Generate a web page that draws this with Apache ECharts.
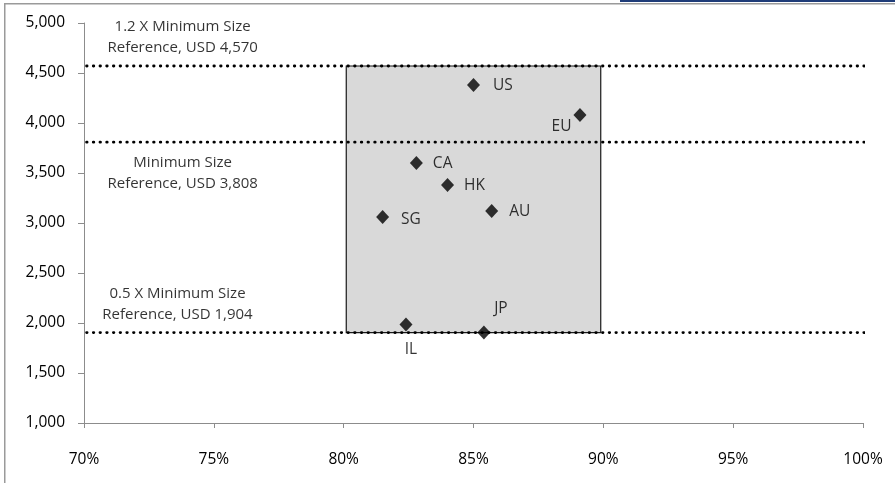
<!DOCTYPE html>
<html>
<head>
<meta charset="utf-8">
<script src="https://cdn.jsdelivr.net/npm/echarts@6/dist/echarts.min.js"></script>
<style>
  html, body { margin: 0; padding: 0; background: #fff; }
  #chart { width: 895px; height: 483px; }
</style>
</head>
<body>
<div id="chart"></div>
<script>
// Jurisdictions plotted: share (%) on x, size (USD) on y
const countries = ['US', 'EU', 'CA', 'HK', 'AU', 'SG', 'IL', 'JP'];
const shareValues = [85.0, 89.1, 82.8, 84.0, 85.7, 81.5, 82.4, 85.4];
const sizeValues = [4380, 4080, 3600, 3380, 3120, 3060, 1985, 1905];

// Reference levels drawn as dotted horizontal lines
const refLevels = [4570, 3808, 1904];
const refTitles = ['1.2 X Minimum Size', 'Minimum Size', '0.5 X Minimum Size'];
const refAmounts = ['4,570', '3,808', '1,904'];

// Shaded band of shares
const bandShare = [80.1, 89.9];

// Axis ranges and ticks
const xTicks = { min: 70, max: 100, step: 5 };
const yTicks = { min: 1000, max: 5000, step: 500 };

const FONT = '"Open Sans"';

// Where each country's label sits relative to its marker
const labelPlacement = {
  US: { position: 'right', offset: [8, 1] },
  EU: { position: 'left', offset: [3, 12] },
  CA: { position: 'right', offset: [5, 1] },
  HK: { position: 'right', offset: [5, 1] },
  AU: { position: 'right', offset: [6, 1] },
  SG: { position: 'right', offset: [7, 3] },
  IL: { position: 'bottom', offset: [5, 5] },
  JP: { position: 'top', offset: [17, -4] }
};

// Reference line annotations: placement above/below the line
const refNotePlacement = [
  { x: 73.8, position: 'top', distance: 8 },
  { x: 73.8, position: 'bottom', distance: 10 },
  { x: 73.6, position: 'top', distance: 7 }
];

const chart = echarts.init(document.getElementById('chart'), null, { renderer: 'canvas' });

const pointData = countries.map((c, i) => ({
  name: c,
  value: [shareValues[i], sizeValues[i]],
  label: labelPlacement[c]
}));

const refLineSeries = refLevels.map((lvl, i) => ({
  type: 'line',
  name: refTitles[i],
  data: [[xTicks.min + 0.1, lvl], [100.8, lvl]],
  clip: false,
  symbol: 'none',
  silent: true,
  z: 3,
  lineStyle: { color: '#000', width: 2.8, type: [0.5, 6.2], cap: 'round' }
}));

const refNoteSeries = {
  type: 'scatter',
  symbolSize: 0,
  silent: true,
  z: 4,
  data: refLevels.map((lvl, i) => ({
    value: [refNotePlacement[i].x, lvl],
    label: {
      show: true,
      position: refNotePlacement[i].position,
      distance: refNotePlacement[i].distance,
      formatter: refTitles[i] + '\nReference, USD ' + refAmounts[i],
      color: '#000',
      fontFamily: FONT,
      fontSize: 15,
      lineHeight: 21,
      align: 'center'
    }
  }))
};

chart.setOption({
  animation: false,
  backgroundColor: '#fff',
  grid: { left: 84, right: 32, top: 23, bottom: 60, containLabel: false },
  xAxis: {
    type: 'value',
    min: xTicks.min,
    max: xTicks.max,
    interval: xTicks.step,
    splitLine: { show: false },
    axisLine: { show: true, onZero: false, lineStyle: { color: '#8c8c8c', width: 1 } },
    axisTick: {
      show: true, length: 5, inside: false,
      interval: (idx, val) => idx === 0 || idx === 6,
      lineStyle: { color: '#8c8c8c' }
    },
    axisLabel: {
      formatter: '{value}%', color: '#000', fontFamily: FONT, fontSize: 15.5, margin: 29
    }
  },
  yAxis: {
    type: 'value',
    min: yTicks.min,
    max: yTicks.max,
    interval: yTicks.step,
    splitLine: { show: false },
    axisLine: { show: true, onZero: false, lineStyle: { color: '#8c8c8c', width: 1 } },
    axisTick: { show: true, length: 6, lineStyle: { color: '#8c8c8c' } },
    axisLabel: {
      formatter: v => v.toLocaleString('en-US'),
      color: '#000', fontFamily: FONT, fontSize: 15.5, margin: 19
    }
  },
  graphic: [
    { type: 'rect', shape: { x: 4, y: 3, width: 891, height: 1.5 }, style: { fill: '#9a9a9a' }, z: 100 },
    { type: 'rect', shape: { x: 4, y: 3, width: 1.5, height: 480 }, style: { fill: '#9a9a9a' }, z: 100 },
    { type: 'rect', shape: { x: 620, y: 0, width: 275, height: 2 }, style: { fill: '#1f3c78' }, z: 100 }
  ],
  series: [
    {
      type: 'scatter',
      name: 'band',
      data: [],
      silent: true,
      markArea: {
        silent: true,
        itemStyle: { color: '#d9d9d9', borderColor: '#1a1a1a', borderWidth: 1.2 },
        data: [[
          { coord: [bandShare[0], refLevels[2]] },
          { coord: [bandShare[1], refLevels[0]] }
        ]]
      },
      z: 1
    },
    ...refLineSeries,
    refNoteSeries,
    {
      type: 'scatter',
      name: 'jurisdictions',
      symbol: 'diamond',
      symbolSize: [13, 14],
      itemStyle: { color: '#000' },
      z: 5,
      label: {
        show: true,
        formatter: p => p.name,
        color: '#000',
        fontFamily: FONT,
        fontSize: 15.5
      },
      data: pointData
    }
  ]
});
</script>
</body>
</html>
